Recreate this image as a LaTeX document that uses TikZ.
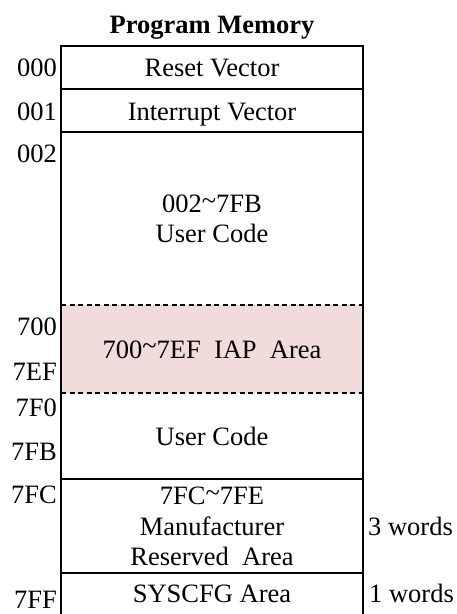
\documentclass[tikz,border=0pt]{standalone}
\usepackage{fontspec}
\setmainfont{Liberation Serif}
\usepackage{xcolor}
\usepackage{tikz}
\usetikzlibrary{positioning,calc}

\definecolor{iapfill}{HTML}{F2DCDB}

\begin{document}
\begin{tikzpicture}[
    x=1pt, y=-1pt,
    font=\fontsize{26.5}{29.5}\selectfont,
    cell/.style={anchor=base, inner sep=0pt, align=center},
    addr/.style={anchor=base east, inner sep=0pt},
    words/.style={anchor=base west, inner sep=0pt},
    border/.style={line width=1.5pt},
    iapline/.style={line width=1.3pt, dash pattern=on 5pt off 3.5pt}
]
    \useasboundingbox (0,0) rectangle (456,614);

    \node[cell, font=\fontsize{26.5}{29.5}\selectfont\bfseries] (title) at (212,33) {Program Memory};

    % IAP area
    \fill[iapfill] (61,305) rectangle (363,393);

    % multi-line cells sit on their last line
    \node[cell] (reset) at (212,76) {Reset Vector};
    \node[cell] (intr) at (212,120) {Interrupt Vector};
    \node[cell] (user1) at (212,242) {002\raisebox{0.25ex}{\char`\~}7FB\\User Code};
    \node[cell] (iap) at (212,358) {700\raisebox{0.25ex}{\char`\~}7EF\ \ IAP\ \ Area};
    \node[cell] (user2) at (212,445) {User Code};
    \node[cell] (mfr) at (212,565) {7FC\raisebox{0.25ex}{\char`\~}7FE\\[1pt]Manufacturer\\[0.5pt]Reserved\ \ Area};
    \node[cell] (syscfg) at (212,602.5) {SYSCFG Area};

    % addresses
    \node[addr] (a000) at (57,76) {000};
    \node[addr] (a001) at (57,120) {001};
    \node[addr] (a002) at (57,162.5) {002};
    \node[addr] (a700) at (57,335.5) {700};
    \node[addr] (a7EF) at (57,380) {7EF};
    \node[addr] (a7F0) at (57,416.5) {7F0};
    \node[addr] (a7FB) at (57,460.5) {7FB};
    \node[addr] (a7FC) at (57,503.5) {7FC};
    \node[addr] (a7FF) at (57,608) {7FF};

    % sizes
    \node[words] (w3) at (368,535) {3 words};
    \node[words] (w1) at (369,602.5) {1 words};

    % frame and separators
    \draw[border] (61,614) -- (61,46) -- (363,46) -- (363,614);
    \draw[border] (61,89) -- (363,89);
    \draw[border] (61,132) -- (363,132);
    \draw[iapline] (61,305) -- (363,305);
    \draw[iapline] (61,393) -- (363,393);
    \draw[border] (61,479) -- (363,479);
    \draw[border] (61,573) -- (363,573);
\end{tikzpicture}
\end{document}
